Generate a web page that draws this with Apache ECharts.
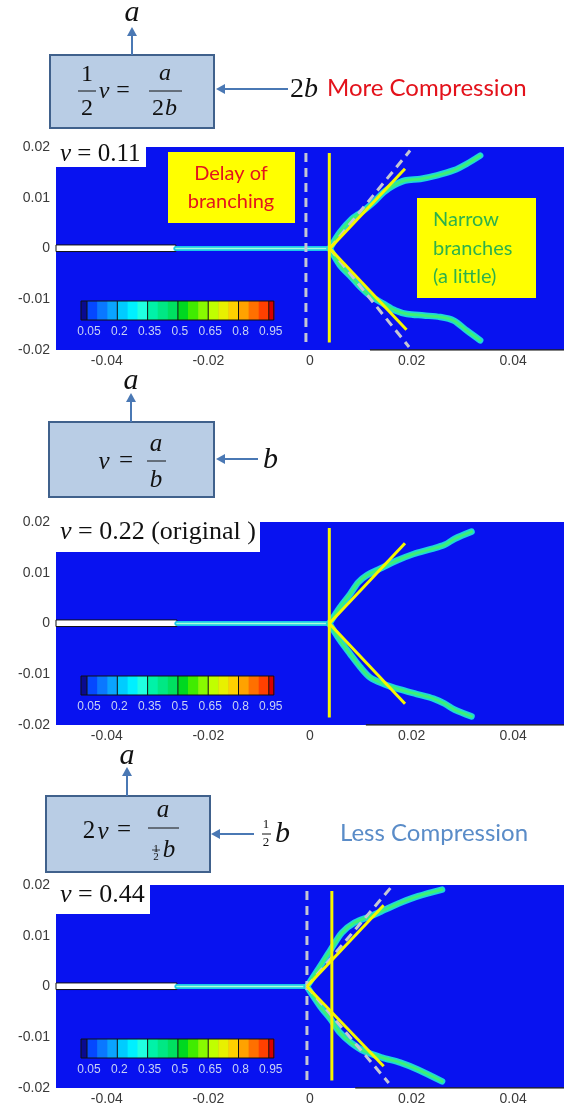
<!DOCTYPE html>
<html>
<head>
<meta charset="utf-8">
<script src="https://cdn.jsdelivr.net/npm/echarts@6/dist/echarts.min.js"></script>
<style>
  html, body { margin: 0; padding: 0; background: #fff; }
  #chart { width: 567px; height: 1106px; }
</style>
</head>
<body>
<div id="chart"></div>
<script>
// poisson ratio per panel
const panelLabels = ['0.11', '0.22 (original )', '0.44']
const xTicks = [-0.04, -0.02, 0, 0.02, 0.04]
const yTicks = [-0.02, -0.01, 0, 0.01, 0.02]

// initial notch end (x), branching point (x)
const notchEnd = [-0.0264, -0.0262, -0.0262]
const branchX = [0.0039, 0.0038, -0.0006]

// crack branches
const upper1 = [[0.0039, 0], [0.0059, 0.0032], [0.0082, 0.0058], [0.0102, 0.0072], [0.0125, 0.0091], [0.0145, 0.0111], [0.0164, 0.0124], [0.0187, 0.0134], [0.0217, 0.0137], [0.025, 0.0144], [0.0283, 0.0154], [0.0309, 0.0167], [0.0335, 0.0183]]
const lower1 = [[0.0039, 0], [0.0059, -0.0033], [0.0082, -0.0057], [0.0099, -0.0076], [0.0118, -0.0093], [0.0145, -0.0109], [0.0168, -0.0122], [0.0191, -0.0129], [0.0224, -0.0132], [0.0256, -0.0135], [0.0283, -0.0142], [0.0309, -0.0162], [0.0335, -0.0181]]
const upper2 = [[0.0038, 0], [0.0059, 0.0032], [0.0079, 0.0058], [0.0095, 0.0081], [0.0112, 0.0095], [0.0138, 0.0108], [0.0171, 0.0124], [0.0204, 0.0137], [0.024, 0.0147], [0.0265, 0.0155], [0.0285, 0.0167], [0.0318, 0.0181]]
const lower2 = [[0.0038, 0], [0.0059, -0.0033], [0.0079, -0.006], [0.0099, -0.0086], [0.0118, -0.0106], [0.0145, -0.0119], [0.0177, -0.013], [0.021, -0.0139], [0.0243, -0.0148], [0.0265, -0.0158], [0.0285, -0.017], [0.0318, -0.0183]]
const upper3 = [[-0.0006, 0], [0.002, 0.004], [0.0041, 0.0073], [0.0063, 0.0106], [0.0088, 0.0126], [0.012, 0.0139], [0.0149, 0.0152], [0.0178, 0.0165], [0.0213, 0.0178], [0.026, 0.0191]]
const lower3 = [[-0.0006, 0], [0.002, -0.0039], [0.0041, -0.0065], [0.0059, -0.0091], [0.0081, -0.0111], [0.0106, -0.0127], [0.0142, -0.014], [0.0178, -0.015], [0.0213, -0.0164], [0.026, -0.0187]]
const branches = [[upper1, lower1], [upper2, lower2], [upper3, lower3]]

// yellow reference lines: vertical x, tips of the diagonals
const yellowX = [0.0038, 0.0038, 0.0043]
const yellowTips = [[[0.0187, 0.0157], [0.019, -0.016]], [[0.0187, 0.0158], [0.0187, -0.0158]], [[0.0145, 0.016], [0.0145, -0.0157]]]
// grey dashed reference (original panel) for panels 1 and 3
const greyX = [-0.0008, null, -0.0006]
const greyTips = [[[0.0197, 0.0193], [0.0195, -0.0194]], null, [[0.016, 0.0196], [0.0155, -0.019]]]
const vLineSpan = [0.0188, -0.0185]
// visible part of the bottom axis line
const axisLineStart = [0.0118, 0.011, 0.0089]

// colour bar
const colorbarLabels = ['0.05', '0.2', '0.35', '0.5', '0.65', '0.8', '0.95']
const colorbarColors = ['#0a0a90', '#0548ff', '#0a78ff', '#0aa4ff', '#00ccff', '#00f0ff', '#20ffe0',
  '#00f2a8', '#00e884', '#00e060', '#00d820', '#40ec00', '#88fa00', '#c0ff00', '#e8f000', '#ffd000',
  '#ffa200', '#ff7000', '#ff4000', '#d80000']

const gridTops = [147, 522, 885]
const GL = 56, GW = 508, GH = 203
const BLUE = '#0812f0'
const serif = 'Liberation Serif'
const sans = 'Liberation Sans'

const fmt = v => {
  const k = Math.round(v * 100)
  if (k === 0) return '0'
  return (k / 100).toFixed(2)
}

const grids = gridTops.map(t => ({
  left: GL, top: t, width: GW, height: GH,
  show: true, backgroundColor: BLUE, borderWidth: 0
}))

const xAxes = gridTops.map((t, i) => ({
  type: 'value', gridIndex: i, min: -0.05, max: 0.05, interval: 0.01,
  axisLine: { show: false }, axisTick: { show: false }, splitLine: { show: false },
  axisLabel: {
    color: '#3a3a3a', fontFamily: sans, fontSize: 14, margin: 4,
    formatter: v => {
      const k = Math.round(v * 100)
      return xTicks.some(t => Math.round(t * 100) === k) ? fmt(v) : ''
    }
  }
}))

const yAxes = gridTops.map((t, i) => ({
  type: 'value', gridIndex: i, min: -0.02, max: 0.02, interval: 0.01,
  axisLine: { show: false }, axisTick: { show: false }, splitLine: { show: false },
  axisLabel: {
    color: '#3a3a3a', fontFamily: sans, fontSize: 14, margin: 6,
    formatter: v => yTicks.some(t => Math.round(t * 100) === Math.round(v * 100)) ? fmt(v) : ''
  }
}))

function lineSeries(i, data, color, width, extra) {
  return Object.assign({
    type: 'line', xAxisIndex: i, yAxisIndex: i, data: data,
    symbol: 'none', silent: true, animation: false,
    lineStyle: { color: color, width: width, cap: 'round', join: 'round' }
  }, extra || {})
}

const series = []
gridTops.forEach((t, i) => {
  const bx = branchX[i]
  const main = [[notchEnd[i], 0], [bx, 0]]
  // crack: cyan halo + lighter core
  series.push(lineSeries(i, main, '#19c8e8', 5))
  series.push(lineSeries(i, main, '#a8ffd8', 1.5))
  branches[i].forEach(b => {
    series.push(lineSeries(i, b, '#1ed6dc', 6.5, { smooth: 0.3 }))
    series.push(lineSeries(i, b, '#3cf078', 3, { smooth: 0.3 }))
  })
  // notch
  series.push({
    type: 'custom', xAxisIndex: i, yAxisIndex: i, silent: true, animation: false,
    data: [[-0.05, notchEnd[i], 0.0007, -0.0006]],
    renderItem: (params, api) => {
      const p1 = api.coord([api.value(0), api.value(2)])
      const p2 = api.coord([api.value(1), api.value(3)])
      return {
        type: 'rect',
        shape: { x: p1[0], y: p1[1], width: p2[0] - p1[0], height: p2[1] - p1[1] },
        style: { fill: '#fff', stroke: '#111', lineWidth: 1 }
      }
    }
  })
  // grey dashed reference
  if (greyX[i] !== null) {
    const g = { type: [9, 6] }
    series.push(lineSeries(i, [[greyX[i], vLineSpan[0]], [greyX[i], vLineSpan[1]]], '#c4c6d4', 3, { lineStyle: Object.assign({ color: '#c4c6d4', width: 3 }, g) }))
    greyTips[i].forEach(tip => {
      series.push(lineSeries(i, [[bx, 0], tip], '#c4c6d4', 3, { lineStyle: Object.assign({ color: '#c4c6d4', width: 3 }, g) }))
    })
  }
  // yellow
  series.push(lineSeries(i, [[yellowX[i], vLineSpan[0]], [yellowX[i], vLineSpan[1]]], '#f6f600', 3, { lineStyle: { color: '#f6f600', width: 3 } }))
  yellowTips[i].forEach(tip => {
    series.push(lineSeries(i, [[bx, 0], tip], '#f6f600', 3, { lineStyle: { color: '#f6f600', width: 3 } }))
  })
  // bottom axis line (only partly visible in the original)
  series.push(lineSeries(i, [[axisLineStart[i], -0.02], [0.05, -0.02]], '#222', 1.5, { lineStyle: { color: '#222', width: 1.5 } }))
})

// ---------- graphic annotations ----------
function text(x, y, str, font, fill, align) {
  return {
    type: 'text', x: x, y: y, silent: true,
    style: {
      text: str, font: font, fill: fill,
      align: align || 'center', verticalAlign: 'middle',
      textAlign: align || 'center', textVerticalAlign: 'middle'
    }
  }
}
function seg(x1, y1, x2, y2, color, w) {
  return { type: 'line', silent: true, shape: { x1: x1, y1: y1, x2: x2, y2: y2 }, style: { stroke: color, lineWidth: w } }
}
const ARROW = '#4a78b4'
function upArrow(x, yBase, yTip) {
  return [seg(x, yBase, x, yTip + 8, ARROW, 2),
    { type: 'polygon', silent: true, shape: { points: [[x, yTip], [x - 5, yTip + 9], [x + 5, yTip + 9]] }, style: { fill: ARROW } }]
}
function leftArrow(xStart, xTip, y) {
  return [seg(xStart, y, xTip + 8, y, ARROW, 2),
    { type: 'polygon', silent: true, shape: { points: [[xTip, y], [xTip + 9, y - 5], [xTip + 9, y + 5]] }, style: { fill: ARROW } }]
}
function box(x, y, w, h) {
  return { type: 'rect', silent: true, shape: { x: x, y: y, width: w, height: h }, style: { fill: '#b9cde5', stroke: '#40618c', lineWidth: 2 } }
}
const it = size => 'italic ' + size + 'px "' + serif + '"'
const up = size => size + 'px "' + serif + '"'

const graphic = []

// panel 1 formula: 1/2 v = a / 2b
graphic.push(box(50, 55, 164, 73))
graphic.push(...upArrow(132, 55, 27))
graphic.push(text(132, 13, 'a', it(30), '#111'))
graphic.push(...leftArrow(288, 216, 89))
graphic.push(text(290, 90, '2', up(28), '#111', 'left'))
graphic.push(text(304, 90, 'b', it(28), '#111', 'left'))
graphic.push(text(327, 88, 'More Compression', '24px Lato', '#e3121b', 'left'))
graphic.push(text(87, 75, '1', up(24), '#111'))
graphic.push(seg(78, 91, 96, 91, '#111', 1))
graphic.push(text(87, 109, '2', up(24), '#111'))
graphic.push(text(104, 92, 'ν', it(24), '#111'))
graphic.push(text(123, 91, '=', up(24), '#111'))
graphic.push(text(165, 74, 'a', it(24), '#111'))
graphic.push(seg(149, 91, 182, 91, '#111', 1))
graphic.push(text(158, 109, '2', up(24), '#111'))
graphic.push(text(171, 109, 'b', it(24), '#111'))

// panel 2 formula: v = a / b
graphic.push(box(49, 422, 165, 75))
graphic.push(...upArrow(131, 422, 393))
graphic.push(text(131, 381, 'a', it(30), '#111'))
graphic.push(...leftArrow(258, 216, 459))
graphic.push(text(263, 460, 'b', it(30), '#111', 'left'))
graphic.push(text(104, 462, 'ν', it(25), '#111'))
graphic.push(text(126, 461, '=', up(25), '#111'))
graphic.push(text(156, 444, 'a', it(25), '#111'))
graphic.push(seg(147, 461, 166, 461, '#111', 1))
graphic.push(text(156, 480, 'b', it(25), '#111'))

// panel 3 formula: 2v = a / (1/2 b)
graphic.push(box(46, 796, 164, 76))
graphic.push(...upArrow(127, 796, 767))
graphic.push(text(127, 756, 'a', it(30), '#111'))
graphic.push(...leftArrow(254, 211, 834))
graphic.push(text(266, 825, '1', up(13), '#111'))
graphic.push(seg(262, 834, 271, 834, '#111', 1))
graphic.push(text(266, 843, '2', up(13), '#111'))
graphic.push(text(275, 834, 'b', it(30), '#111', 'left'))
graphic.push(text(340, 833, 'Less Compression', '24px Lato', '#5a8cc8', 'left'))
graphic.push(text(89, 831, '2', up(25), '#111'))
graphic.push(text(103, 832, 'ν', it(25), '#111'))
graphic.push(text(124, 830, '=', up(25), '#111'))
graphic.push(text(163, 810, 'a', it(25), '#111'))
graphic.push(seg(148, 828, 179, 828, '#111', 1))
graphic.push(text(156, 849, '1', up(11), '#111'))
graphic.push(seg(152, 850, 160, 850, '#111', 0.8))
graphic.push(text(156, 857, '2', up(11), '#111'))
graphic.push(text(169, 850, 'b', it(25), '#111'))

// nu labels
const nuBoxes = [[56, 139, 90, 28, 25], [56, 510, 204, 42, 26], [56, 874, 94, 40, 26]]
nuBoxes.forEach((b, i) => {
  graphic.push({ type: 'rect', silent: true, shape: { x: b[0], y: b[1], width: b[2], height: b[3] }, style: { fill: '#fff' } })
  graphic.push({
    type: 'text', x: b[0] + 4, y: b[1] + b[3] / 2 + 1, silent: true,
    style: {
      text: '{n|ν} = ' + panelLabels[i],
      font: up(b[4]), fill: '#111',
      align: 'left', verticalAlign: 'middle', textAlign: 'left', textVerticalAlign: 'middle',
      rich: { n: { font: it(b[4]), fill: '#111' } }
    }
  })
})

// colour bars
gridTops.forEach(t => {
  const y = t + 154, h = 19
  let x = 81
  const widths = colorbarColors.map((c, k) => (k === 0 ? 6 : (k === colorbarColors.length - 1 ? 5 : 10.1)))
  colorbarColors.forEach((c, k) => {
    graphic.push({ type: 'rect', silent: true, shape: { x: x, y: y, width: widths[k] + 0.5, height: h }, style: { fill: c } })
    x += widths[k]
  })
  const dv = []
  for (let k = 0; k <= 6; k++) dv.push(81 + 6 + 30.3 * k)
  graphic.push({ type: 'rect', silent: true, shape: { x: 81, y: y, width: x - 81, height: h }, style: { fill: 'none', stroke: '#111', lineWidth: 1 } })
  dv.forEach((d, k) => {
    graphic.push(seg(d, y, d, y + h, '#111', 1))
    graphic.push(text(d + 2, t + 185, colorbarLabels[k], '12px "' + sans + '"', '#c8d2f4'))
  })
})

// text callouts in panel 1
graphic.push({ type: 'rect', silent: true, shape: { x: 168, y: 152, width: 127, height: 71 }, style: { fill: '#ffff00' } })
graphic.push(text(231, 174, 'Delay of', '20px Lato', '#e3141e'))
graphic.push(text(231, 202, 'branching', '20px Lato', '#e3141e'))
graphic.push({ type: 'rect', silent: true, shape: { x: 417, y: 198, width: 119, height: 100 }, style: { fill: '#ffff00' } })
graphic.push(text(433, 220, 'Narrow', '20px Lato', '#2eb24a', 'left'))
graphic.push(text(433, 249, 'branches', '20px Lato', '#2eb24a', 'left'))
graphic.push(text(433, 277, '(a little)', '20px Lato', '#2eb24a', 'left'))

const chart = echarts.init(document.getElementById('chart'), null, { renderer: 'canvas' })
chart.setOption({
  animation: false,
  backgroundColor: '#fff',
  grid: grids,
  xAxis: xAxes,
  yAxis: yAxes,
  series: series,
  graphic: graphic
})
</script>
</body>
</html>
